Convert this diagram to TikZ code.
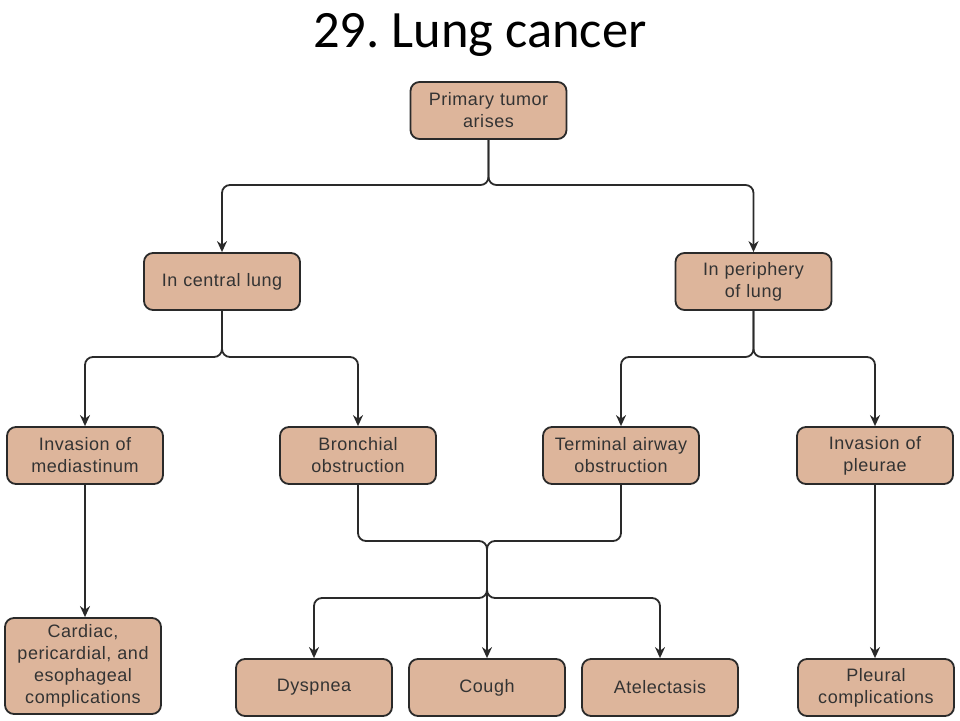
\documentclass[tikz,border=0pt]{standalone}
\usepackage{fontspec}
\setmainfont{Liberation Sans}[LetterSpace=3]
\newfontfamily\titlefont{Carlito}
\usetikzlibrary{arrows.meta}
\definecolor{boxfill}{HTML}{DDB59B}
\definecolor{ink}{HTML}{2A2A2A}
\definecolor{txt}{HTML}{333333}
\tikzset{
  box/.style={draw=ink, line width=1.8pt, fill=boxfill, rounded corners=9pt,
    minimum width=156pt, minimum height=57pt, text width=152pt, align=center,
    inner sep=2pt, text=txt, font=\fontsize{18}{22}\selectfont},
  conn/.style={draw=ink, line width=1.8pt, rounded corners=8pt},
  arr/.style={conn, -{Stealth[length=11pt,width=10pt]}}
}
\begin{document}
\frenchspacing
\begin{tikzpicture}[x=1pt,y=-1pt]
\useasboundingbox (0,0) rectangle (960,720);
\node[font=\titlefont\fontsize{52.5}{60}\selectfont, text=black, anchor=base, inner sep=0pt] (title) at (480,47.3) {29. Lung cancer};
\node[box] (prim) at (488.5,110.5) {Primary tumor\\arises};
\node[box] (cent) at (222,281.5) {In central lung};
\node[box] (peri) at (753.5,281.5) {In periphery\\of lung};
\node[box] (med) at (85,455.5) {Invasion of\\mediastinum};
\node[box] (bron) at (358,455.5) {Bronchial\\obstruction};
\node[box] (term) at (621,455.5) {Terminal airway\\obstruction};
\node[box] (pleu) at (875,455.5) {Invasion of\\pleurae};
\node[box, minimum height=96pt] (card) at (83,666) {Cardiac,\\pericardial, and\\esophageal\\complications};
\node[box] (dysp) at (314,687.5) {Dyspnea};
\node[box] (cough) at (487,687.5) {Cough};
\node[box] (atel) at (660,687.5) {Atelectasis};
\node[box] (plc) at (876,687.5) {Pleural\\complications};
\coordinate (j1) at (488.5,185);
\coordinate (j2) at (222,357);
\coordinate (j3) at (753.5,357);
\coordinate (m1) at (487,541);
\coordinate (m2) at (487,598);
% top split
\draw[arr] (prim.south) -- (j1) -| (cent.north);
\draw[arr] (prim.south) -- (j1) -| (peri.north);
% central split
\draw[arr] (cent.south) -- (j2) -| (med.north);
\draw[arr] (cent.south) -- (j2) -| (bron.north);
% periphery split
\draw[arr] (peri.south) -- (j3) -| (term.north);
\draw[arr] (peri.south) -- (j3) -| (pleu.north);
% merge
\draw[arr] (bron.south) |- (m1) -- (m2) -| (dysp.north);
\draw[arr] (term.south) |- (m1) -- (m2) -| (atel.north);
\draw[arr] ([yshift=-10pt]m1) -- (cough.north);
% straight
\draw[arr] (med.south) -- (med.south |- card.north);
\draw[arr] (pleu.south) -- (pleu.south |- plc.north);
\end{tikzpicture}
\end{document}
